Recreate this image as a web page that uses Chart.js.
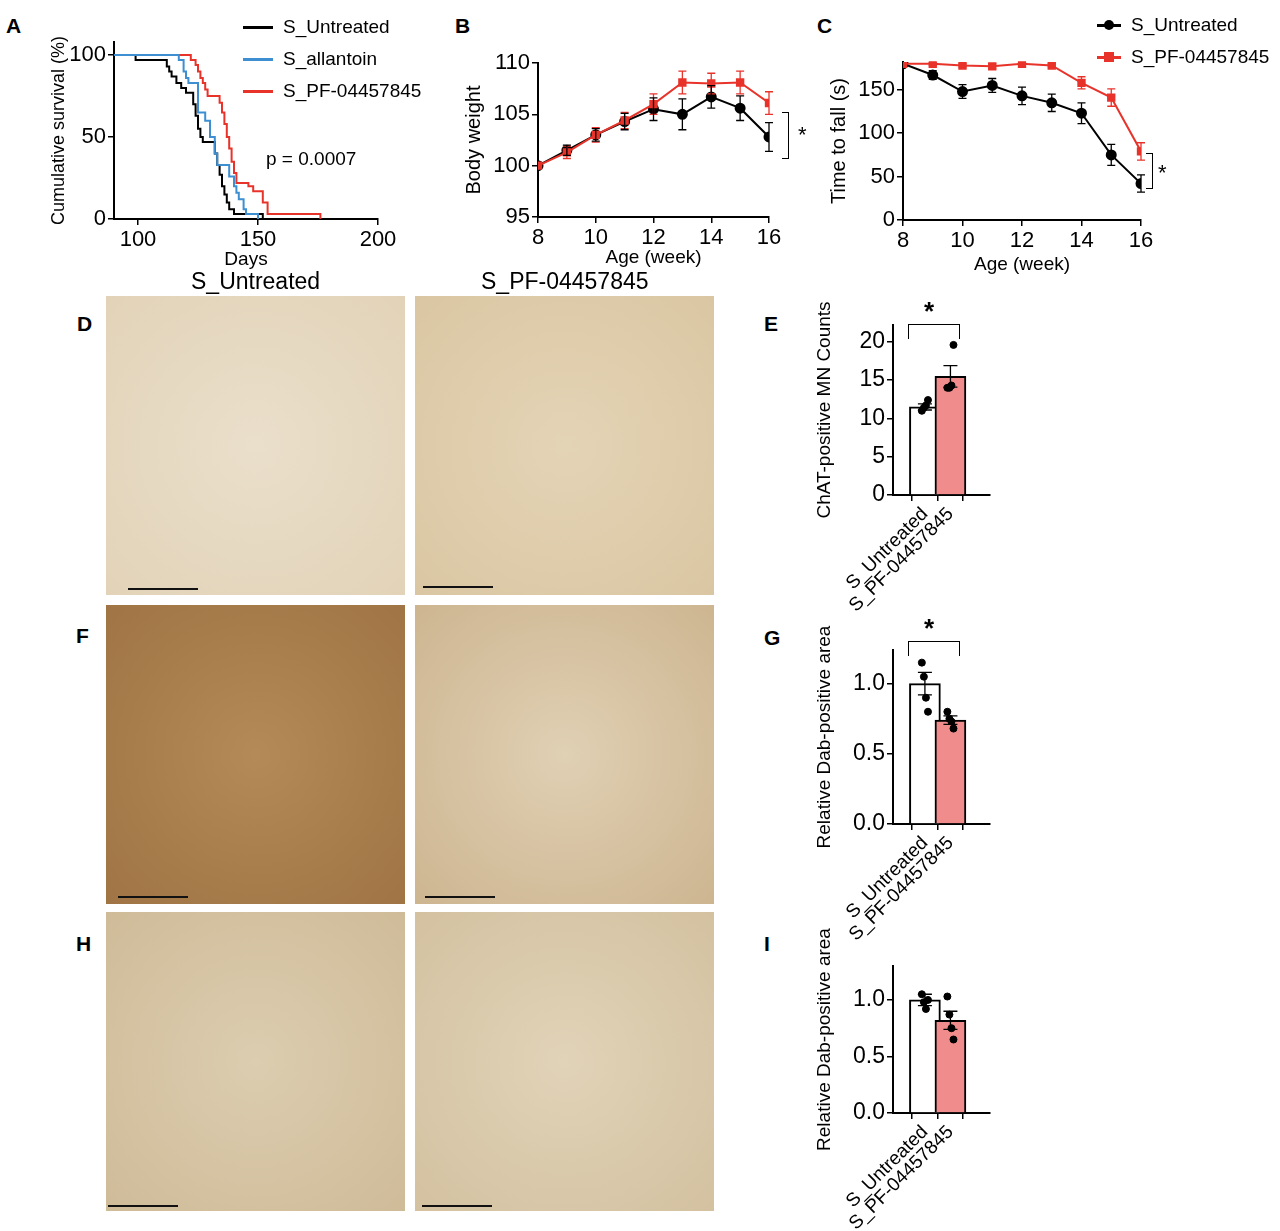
<!DOCTYPE html>
<html><head><meta charset="utf-8">
<script src="https://cdn.jsdelivr.net/npm/chart.js@4"></script>
<style>
body{margin:0;background:#fff;font-family:"Liberation Sans",Arial,sans-serif;width:1280px;height:1231px;position:relative;overflow:hidden}
.abs{position:absolute}
.lbl{position:absolute;font-weight:bold;font-size:21px;color:#000}
.txt{position:absolute;font-size:19px;color:#000;white-space:nowrap}
.img{position:absolute;width:299px;height:299px}
.sb{position:absolute;height:2px;background:#111;width:70px}
canvas{position:absolute}
</style></head><body>
<script>
// ---------- DATA ----------
const survUntreated = [[90,100],[99,97],[112,93],[113,90],[114,87],[116,83],[118,80],[120,77],[123,70],[124,63],[125,55],[126,50],[127,47],[132,40],[133,33],[134,27],[135,20],[136,15],[137,10],[138,6],[140,3],[152,0]];
const survAllantoin = [[90,100],[117,97],[119,90],[120,86],[121,83],[125,65],[128,60],[130,50],[132,40],[133,33],[138,26],[140,20],[141,16],[142,12],[144,6],[145,3],[150,0]];
const survPF = [[90,100],[122,97],[124,94],[125,90],[126,86],[127,83],[128,79],[129,75],[134,71],[135,65],[136,58],[137,50],[138,43],[139,35],[140,28],[141,22],[146,20],[148,17],[152,10],[154,3],[176,0]];
const weeks = [8,9,10,11,12,13,14,15,16];
const bwUntreated = [100,101.5,103,104.3,105.5,105,106.7,105.6,102.8];
const bwUntreatedErr = [0,0.5,0.6,0.8,1.1,1.5,1.1,1.2,1.4];
const bwPF = [100,101.3,103,104.4,106,108.1,108,108.1,106.1];
const bwPFErr = [0,0.6,0.7,0.8,1,1.1,1,1.1,1.1];
const ttfUntreated = [180,167,148,155,143,135,123,75,42];
const ttfUntreatedErr = [0,5,8,8,10,10,12,12,10];
const ttfPF = [180,180,178,177,180,178,158,141,79];
const ttfPFErr = [0,2,2,3,2,2,7,10,10];
const groups = ['S_Untreated','S_PF-04457845'];
const chatMean = [11.5,15.5], chatErr = [0.4,1.4];
const chatPts = [[11,11.4,11.7,12.4],[14,14,14.3,19.6]];
const gfapMean = [1.0,0.74], gfapErr = [0.08,0.03];
const gfapPts = [[1.15,1.05,0.9,0.8],[0.80,0.75,0.73,0.68]];
const ibaMean = [1.0,0.82], ibaErr = [0.05,0.08];
const ibaPts = [[1.05,0.98,0.92,1.0],[1.03,0.87,0.75,0.65]];

const RED='#e8332a', BLUE='#3d8fd1', PINK='#f08c8c';
const FONT='"Liberation Sans", Arial, sans-serif';
Chart.defaults.font.family=FONT;
Chart.defaults.color='#000';

const errPlugin={id:'err',afterDatasetsDraw(c){const ctx=c.ctx;
  c.data.datasets.forEach((ds,i)=>{if(!ds.err)return;const m=c.getDatasetMeta(i);if(m.hidden)return;
    ctx.save();ctx.strokeStyle=ds.errColor||ds.borderColor;ctx.lineWidth=1.3;
    m.data.forEach((el,j)=>{const e=ds.err[j];if(!e)return;const v=ds.data[j];const y=(typeof v==='object')?v.y:v;
      const y1=c.scales.y.getPixelForValue(y+e),y2=c.scales.y.getPixelForValue(y-e);const x=el.x;const w=ds.capW||5;
      ctx.beginPath();ctx.moveTo(x,y1);ctx.lineTo(x,y2);
      ctx.moveTo(x-w,y1);ctx.lineTo(x+w,y1);ctx.moveTo(x-w,y2);ctx.lineTo(x+w,y2);ctx.stroke();});
    ctx.restore();});}};

function axis(o,fs){return Object.assign({grid:{drawOnChartArea:false,color:'#000',tickLength:6,lineWidth:1.5},border:{color:'#000',width:2},ticks:{font:{size:fs||22},color:'#000',padding:2}},o);}
function make(area,yW,xH,cfg,pt){pt=pt||14;const pr=30;
  const cv=document.createElement('canvas');const W=(area.r-area.l)+yW+pr,H=(area.b-area.t)+xH+pt;
  cv.width=W;cv.height=H;cv.style.left=(area.l-yW)+'px';cv.style.top=(area.t-pt)+'px';cv.style.width=W+'px';cv.style.height=H+'px';
  document.body.appendChild(cv);
  cfg.options=cfg.options||{};cfg.options.responsive=false;cfg.options.animation=false;cfg.options.devicePixelRatio=1;
  cfg.options.layout={padding:{top:pt,right:pr,left:0,bottom:0}};
  cfg.options.plugins=Object.assign({legend:{display:false},tooltip:{enabled:false}},cfg.options.plugins||{});
  const sx=cfg.options.scales.x,sy=cfg.options.scales.y;
  sx.afterFit=s=>{s.height=xH;s.paddingLeft=0;s.paddingRight=0;};
  sy.afterFit=s=>{s.width=yW;s.paddingTop=0;s.paddingBottom=0;};
  cfg.plugins=(cfg.plugins||[]).concat([errPlugin]);
  return new Chart(cv,cfg);}
const keep=vals=>s=>{s.ticks=vals.map(v=>({value:v}));};

// A survival
const kmDs=(d,col)=>({data:d.map(p=>({x:p[0],y:p[1]})),borderColor:col,borderWidth:2,stepped:'before',pointRadius:0,fill:false});
make({l:114,r:378,t:42,b:219},66,52,{type:'line',data:{datasets:[kmDs(survAllantoin,BLUE),kmDs(survPF,RED),kmDs(survUntreated,'#000')]},
 options:{scales:{x:axis({type:'linear',min:90,max:200,afterBuildTicks:keep([100,150,200]),title:{display:true,text:'Days',font:{size:19},padding:0}}),
  y:axis({type:'linear',min:0,max:108,afterBuildTicks:keep([0,50,100]),title:{display:true,text:'Cumulative survival (%)',font:{size:18},padding:0}})}}});

// B body weight
const lineDs=(d,e,col,style)=>({data:d,err:e,borderColor:col,backgroundColor:col,borderWidth:2,pointStyle:style,pointRadius:4.5,capW:4});
make({l:538,r:769,t:63,b:217},76,52,{type:'line',data:{labels:weeks,datasets:[lineDs(bwPF,bwPFErr,RED,'rect'),lineDs(bwUntreated,bwUntreatedErr,'#000','circle')]},
 options:{scales:{x:axis({type:'linear',min:8,max:16,afterBuildTicks:keep([8,10,12,14,16]),title:{display:true,text:'Age (week)',font:{size:19},padding:0}}),
  y:axis({min:95,max:110,afterBuildTicks:keep([95,100,105,110]),title:{display:true,text:'Body weight',font:{size:20},padding:0}})}},
 });
// C time to fall
make({l:903,r:1141,t:62,b:220},76,56,{type:'line',data:{labels:weeks,datasets:[lineDs(ttfPF,ttfPFErr,RED,'rect'),lineDs(ttfUntreated,ttfUntreatedErr,'#000','circle')]},
 options:{scales:{x:axis({type:'linear',min:8,max:16,afterBuildTicks:keep([8,10,12,14,16]),title:{display:true,text:'Age (week)',font:{size:19},padding:0}}),
  y:axis({min:0,max:182,afterBuildTicks:keep([0,50,100,150]),title:{display:true,text:'Time to fall (s)',font:{size:20},padding:0}})}}});

// bar panels
const jit=[-0.12,-0.04,0.04,0.12];
function barPanel(area,mean,err,pts,max,ticks,title){
  return make(area,80,140,{type:'bar',data:{datasets:[
    {type:'scatter',data:pts.flatMap((g,i)=>g.map((v,k)=>({x:i+jit[k],y:v}))),backgroundColor:'#000',borderColor:'#000',pointRadius:3.5},
    {type:'bar',data:mean.map((v,i)=>({x:i,y:v})),err:err,errColor:'#000',capW:7,backgroundColor:['#fff',PINK],borderColor:'#000',borderWidth:2,barThickness:31}]},
   options:{scales:{x:axis({type:'linear',min:-0.3,max:1.6,afterBuildTicks:s=>{s.ticks=[{value:0},{value:1}];},
     ticks:{font:{size:19},color:'#000',minRotation:45,maxRotation:45,padding:2,callback:v=>groups[v]}}),
    y:axis({min:0,max:max,afterBuildTicks:keep(ticks),ticks:{font:{size:23},color:'#000',padding:2,callback:v=>title.startsWith('Rel')?v.toFixed(1):v},title:{display:true,text:title,font:{size:19},padding:0}})}}},70);}
barPanel({l:893,r:990,t:325,b:495},chatMean,chatErr,chatPts,22.2,[0,5,10,15,20],'ChAT-positive MN Counts');
barPanel({l:893,r:990,t:650,b:824},gfapMean,gfapErr,gfapPts,1.24,[0,0.5,1],'Relative Dab-positive area');
barPanel({l:893,r:990,t:966,b:1113},ibaMean,ibaErr,ibaPts,1.3,[0,0.5,1],'Relative Dab-positive area');
</script>

<!-- micrograph placeholders -->
<div class="img" style="left:106px;top:296px;background:radial-gradient(circle at 50% 50%,#eadfcb,#e2d3b8)"></div>
<div class="img" style="left:415px;top:296px;background:radial-gradient(circle at 50% 50%,#e4d4b6,#dac6a2)"></div>
<div class="img" style="left:106px;top:605px;background:radial-gradient(circle at 50% 50%,#b38a58,#a07444)"></div>
<div class="img" style="left:415px;top:605px;background:radial-gradient(circle at 50% 50%,#e0d0b4,#cdb590)"></div>
<div class="img" style="left:106px;top:912px;background:radial-gradient(circle at 50% 50%,#dccdb0,#cfbb98)"></div>
<div class="img" style="left:415px;top:912px;background:radial-gradient(circle at 50% 50%,#e1d3b8,#d3c1a0)"></div>
<div class="sb" style="left:128px;top:588px"></div><div class="sb" style="left:423px;top:586px"></div>
<div class="sb" style="left:118px;top:896px"></div><div class="sb" style="left:425px;top:896px"></div>
<div class="sb" style="left:108px;top:1205px"></div><div class="sb" style="left:422px;top:1205px"></div>

<div class="txt" style="left:191px;top:268px;font-size:23px">S_Untreated</div>
<div class="txt" style="left:481px;top:268px;font-size:23px">S_PF-04457845</div>

<!-- panel letters -->
<div class="lbl" style="left:6px;top:14px">A</div><div class="lbl" style="left:455px;top:14px">B</div><div class="lbl" style="left:817px;top:14px">C</div>
<div class="lbl" style="left:77px;top:312px">D</div><div class="lbl" style="left:764px;top:312px">E</div>
<div class="lbl" style="left:76px;top:624px">F</div><div class="lbl" style="left:764px;top:626px">G</div>
<div class="lbl" style="left:76px;top:932px">H</div><div class="lbl" style="left:764px;top:932px">I</div>

<!-- legend A -->
<div class="abs" style="left:243px;top:26px;width:30px;height:3px;background:#000"></div><div class="txt" style="left:283px;top:16px">S_Untreated</div>
<div class="abs" style="left:243px;top:58px;width:30px;height:3px;background:#3d8fd1"></div><div class="txt" style="left:283px;top:48px">S_allantoin</div>
<div class="abs" style="left:243px;top:90px;width:30px;height:3px;background:#e8332a"></div><div class="txt" style="left:283px;top:80px">S_PF-04457845</div>
<div class="txt" style="left:266px;top:148px">p = 0.0007</div>
<!-- legend C -->
<div class="abs" style="left:1097px;top:24px;width:24px;height:3px;background:#000"></div><div class="abs" style="left:1104px;top:20px;width:10px;height:10px;border-radius:50%;background:#000"></div>
<div class="txt" style="left:1131px;top:14px">S_Untreated</div>
<div class="abs" style="left:1097px;top:56px;width:24px;height:3px;background:#e8332a"></div><div class="abs" style="left:1104px;top:52px;width:10px;height:10px;background:#e8332a"></div>
<div class="txt" style="left:1131px;top:46px">S_PF-04457845</div>
<!-- significance brackets -->
<div class="abs" style="left:782px;top:112px;width:6px;height:45px;border:1.5px solid #000;border-left:none"></div><div class="txt" style="left:798px;top:122px;font-size:22px">*</div>
<div class="abs" style="left:1146px;top:153px;width:6px;height:34px;border:1.5px solid #000;border-left:none"></div><div class="txt" style="left:1158px;top:160px;font-size:22px">*</div>
<div class="abs" style="left:908px;top:324px;width:50px;height:14px;border:1.5px solid #000;border-bottom:none"></div><div class="lbl" style="left:924px;top:296px;font-size:26px">*</div>
<div class="abs" style="left:908px;top:641px;width:50px;height:14px;border:1.5px solid #000;border-bottom:none"></div><div class="lbl" style="left:924px;top:613px;font-size:26px">*</div>
</body></html>
